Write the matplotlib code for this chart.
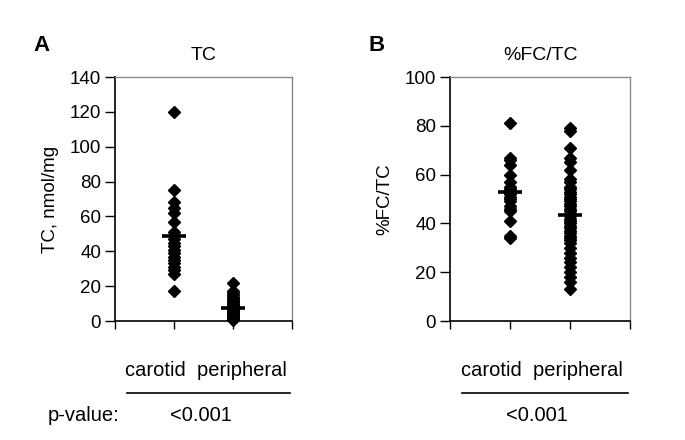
import numpy as np
import matplotlib
matplotlib.use("Agg")
import matplotlib.pyplot as plt

plt.rcParams['font.family'] = ['Liberation Sans', 'DejaVu Sans']

groups = ['carotid', 'peripheral']

# panel A: TC, nmol/mg
tc_carotid = [120, 75, 68, 65, 62, 57, 51, 49, 47, 45, 43, 41, 39, 37, 35,
              33, 31, 29, 27, 17]
tc_peripheral = [22, 17, 16, 15, 14, 13, 12, 12, 11, 11, 10, 10, 9, 9, 9, 8,
                 8, 8, 7, 7, 7, 6, 6, 6, 6, 5, 5, 5, 5, 4, 4, 4, 3, 3, 3, 2,
                 2, 2, 1, 1, 0.5]

# panel B: %FC/TC
fc_carotid = [81, 67, 66, 64, 60, 57, 55, 54, 53, 53, 52, 51, 50, 49, 47, 46,
              45, 41, 35, 34]
fc_peripheral = [79, 78, 71, 67, 65, 62, 58, 57, 55, 54, 53, 52, 51, 50, 49,
                 48, 47, 46, 45, 44, 43, 42, 41, 40, 39, 38, 37, 36, 35, 34,
                 33, 32, 30, 28, 26, 24, 22, 20, 18, 16, 13]

pvals = ['<0.001', '<0.001']

W, H = 685, 440
fig = plt.figure(figsize=(W / 100, H / 100), dpi=100)


def px(x, y):
    return x / W, 1 - y / H


def panel(left, right, data, ymax, title, ylabel, letter, pval, show_p):
    top, bottom = 77, 321
    ax = fig.add_axes([left / W, 1 - bottom / H, (right - left) / W, (bottom - top) / H])
    for i, vals in enumerate(data):
        xs = np.full(len(vals), i + 1)
        ax.plot(xs, vals, 'D', color='black', ms=6.2, clip_on=False)
        m = np.mean(vals)
        ax.hlines(m, i + 1 - 0.2, i + 1 + 0.2, color='black', lw=2.6)
    ax.set_xlim(0, 3)
    ax.set_ylim(0, ymax)
    ax.set_yticks(np.arange(0, ymax + 1, 20))
    ax.set_xticks([0, 1, 2, 3])
    ax.set_xticklabels([])
    ax.tick_params(axis='y', direction='out', length=7, width=1, labelsize=13.5, pad=3)
    ax.tick_params(axis='x', direction='out', length=6, width=1)
    for s in ['left', 'bottom']:
        ax.spines[s].set_color('black')
        ax.spines[s].set_linewidth(1.2)
    for s in ['top', 'right']:
        ax.spines[s].set_color('#8a8a8a')
        ax.spines[s].set_linewidth(1)
    ax.set_title(title, fontsize=14, pad=12)
    ax.set_ylabel(ylabel, fontsize=13.5, labelpad=8)

    lx = left - 82
    fig.text(*px(lx, 51), letter, fontsize=16, fontweight='bold', ha='left', va='baseline')

    cx = (left + right) / 2 + 2
    fig.text(*px(cx, 376), '  '.join(groups), fontsize=14.5, ha='center', va='baseline')
    fig.add_artist(plt.Line2D([(left + 12) / W, (right - 2) / W],
                              [1 - 393 / H, 1 - 393 / H], color='black', lw=1.2))
    fig.text(*px(cx - 5, 421), pval, fontsize=14.5, ha='center', va='baseline')
    if show_p:
        fig.text(*px(48, 421), 'p-value:', fontsize=14.5, ha='left', va='baseline')
    return ax


panel(115, 292, [tc_carotid, tc_peripheral], 140, 'TC', 'TC, nmol/mg', 'A', pvals[0], True)
panel(450, 630, [fc_carotid, fc_peripheral], 100, '%FC/TC', '%FC/TC', 'B', pvals[1], False)

fig.savefig('out.png', dpi=100)
